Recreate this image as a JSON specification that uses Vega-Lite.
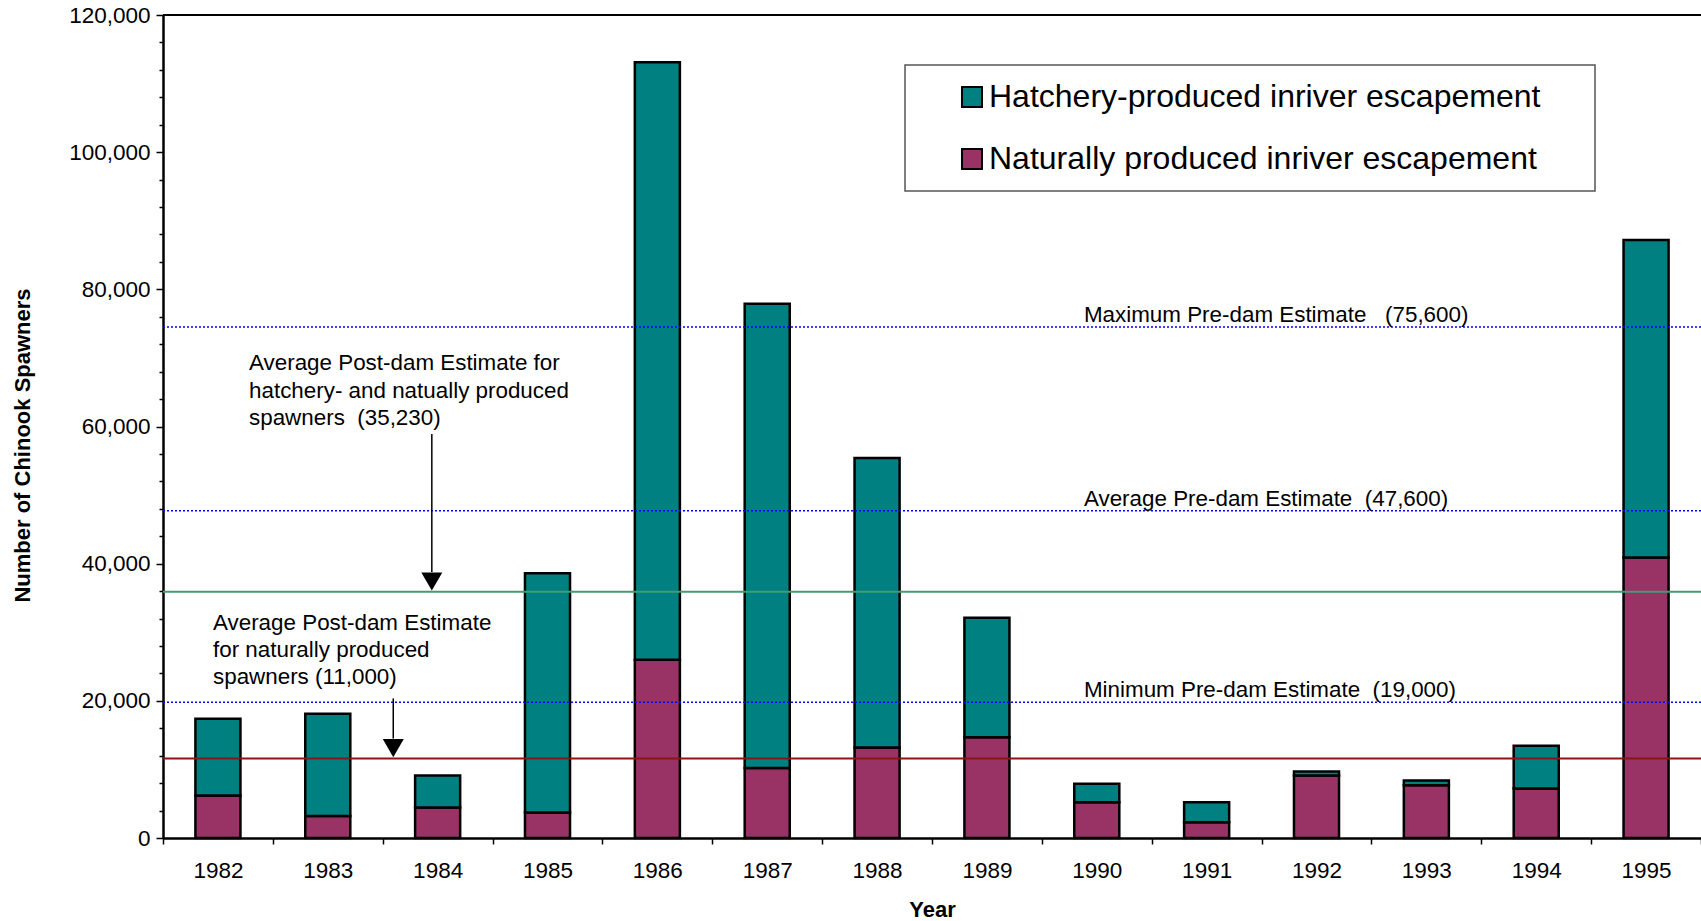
{
  "$schema": "https://vega.github.io/schema/vega-lite/v6.json",
  "width": 1538,
  "height": 823,
  "autosize": {"type": "none"},
  "padding": {"left": 163, "top": 15, "right": 0, "bottom": 83},
  "config": {
    "font": "Liberation Sans",
    "view": {"stroke": null},
    "legend": {"strokeWidth": 1.5}
  },
  "data": {
    "values": [
      {"year": "1982", "type": "Naturally produced inriver escapement", "count": 6200},
      {"year": "1982", "type": "Hatchery-produced inriver escapement", "count": 11200},
      {"year": "1983", "type": "Naturally produced inriver escapement", "count": 3200},
      {"year": "1983", "type": "Hatchery-produced inriver escapement", "count": 14900},
      {"year": "1984", "type": "Naturally produced inriver escapement", "count": 4450},
      {"year": "1984", "type": "Hatchery-produced inriver escapement", "count": 4650},
      {"year": "1985", "type": "Naturally produced inriver escapement", "count": 3700},
      {"year": "1985", "type": "Hatchery-produced inriver escapement", "count": 34900},
      {"year": "1986", "type": "Naturally produced inriver escapement", "count": 26000},
      {"year": "1986", "type": "Hatchery-produced inriver escapement", "count": 87100},
      {"year": "1987", "type": "Naturally produced inriver escapement", "count": 10200},
      {"year": "1987", "type": "Hatchery-produced inriver escapement", "count": 67700},
      {"year": "1988", "type": "Naturally produced inriver escapement", "count": 13200},
      {"year": "1988", "type": "Hatchery-produced inriver escapement", "count": 42200},
      {"year": "1989", "type": "Naturally produced inriver escapement", "count": 14700},
      {"year": "1989", "type": "Hatchery-produced inriver escapement", "count": 17400},
      {"year": "1990", "type": "Naturally produced inriver escapement", "count": 5200},
      {"year": "1990", "type": "Hatchery-produced inriver escapement", "count": 2700},
      {"year": "1991", "type": "Naturally produced inriver escapement", "count": 2300},
      {"year": "1991", "type": "Hatchery-produced inriver escapement", "count": 2900},
      {"year": "1992", "type": "Naturally produced inriver escapement", "count": 9100},
      {"year": "1992", "type": "Hatchery-produced inriver escapement", "count": 600},
      {"year": "1993", "type": "Naturally produced inriver escapement", "count": 7700},
      {"year": "1993", "type": "Hatchery-produced inriver escapement", "count": 700},
      {"year": "1994", "type": "Naturally produced inriver escapement", "count": 7200},
      {"year": "1994", "type": "Hatchery-produced inriver escapement", "count": 6250},
      {"year": "1995", "type": "Naturally produced inriver escapement", "count": 40900},
      {"year": "1995", "type": "Hatchery-produced inriver escapement", "count": 46300}
    ]
  },
  "layer": [
    {
      "mark": {"type": "bar", "width": {"band": 0.41}, "stroke": "black", "strokeWidth": 2.5},
      "encoding": {
        "x": {
          "field": "year", "type": "ordinal",
          "scale": {"paddingInner": 0, "paddingOuter": 0},
          "axis": {
            "title": "Year", "titleFontSize": 22, "titleFontWeight": "bold", "titleColor": "black",
            "titleBaseline": "middle", "titleY": 71,
            "labelAngle": 0, "labelFontSize": 22.5, "labelColor": "black", "labelPadding": 15,
            "tickBand": "extent", "tickSize": 6, "tickColor": "black", "tickWidth": 1.5,
            "domainColor": "black", "domainWidth": 2.5
          }
        },
        "y": {
          "field": "count", "type": "quantitative", "stack": "zero",
          "scale": {"domain": [0, 120000], "nice": false},
          "axis": {
            "title": "Number of Chinook Spawners", "titleFontSize": 22, "titleFontWeight": "bold", "titleColor": "black",
            "titleX": -141, "titleY": 430, "titleAngle": 270, "titleBaseline": "middle", "titleAlign": "center",
            "values": [0, 4000, 8000, 12000, 16000, 20000, 24000, 28000, 32000, 36000, 40000, 44000, 48000, 52000, 56000, 60000, 64000, 68000, 72000, 76000, 80000, 84000, 88000, 92000, 96000, 100000, 104000, 108000, 112000, 116000, 120000],
            "tickCount": 100,
            "labelExpr": "datum.value % 20000 === 0 ? format(datum.value, ',') : ''",
            "labelOverlap": false, "labelBound": false, "labelFlush": false,
            "labelFontSize": 22.5, "labelColor": "black", "labelPadding": 6,
            "tickSize": {"condition": {"test": "datum.value % 20000 === 0", "value": 7}, "value": 4},
            "tickColor": "black", "tickWidth": 1.5,
            "grid": false, "domainColor": "black", "domainWidth": 2.5
          }
        },
        "color": {
          "field": "type", "type": "nominal",
          "scale": {
            "domain": ["Hatchery-produced inriver escapement", "Naturally produced inriver escapement"],
            "range": ["#008080", "#993366"]
          },
          "legend": {
            "orient": "none", "legendX": 742, "legendY": 50, "title": null, "direction": "vertical",
            "symbolType": "square", "symbolSize": 400, "symbolStrokeColor": "black", "symbolStrokeWidth": 2,
            "symbolOffset": 35, "labelOffset": 1, "labelFontSize": 32, "labelColor": "black", "labelLimit": 1000,
            "padding": 16, "rowPadding": 30, "strokeColor": "#555555", "fillColor": "white",
            "labelExpr": "datum.label + '\u2002\u2002\u2009\u200b'"
          }
        },
        "order": {"field": "type", "sort": "descending"}
      }
    },
    {
      "data": {"values": [{}]},
      "mark": {"type": "rule", "color": "black", "strokeWidth": 2},
      "encoding": {"y": {"datum": 120000, "type": "quantitative"}}
    },
    {
      "data": {
        "values": [
          {"estimate": "Maximum Pre-dam Estimate\u00a0\u00a0 (75,600)", "value": 74500},
          {"estimate": "Average Pre-dam Estimate\u00a0 (47,600)", "value": 47700},
          {"estimate": "Minimum Pre-dam Estimate\u00a0 (19,000)", "value": 19800}
        ]
      },
      "layer": [
        {
          "mark": {"type": "rule", "color": "#0000ff", "strokeWidth": 1.5, "strokeDash": [2, 2]},
          "encoding": {"y": {"field": "value", "type": "quantitative"}}
        },
        {
          "mark": {"type": "text", "align": "left", "baseline": "alphabetic", "dy": -5, "fontSize": 22.4, "color": "black"},
          "encoding": {
            "x": {"datum": "1990", "type": "ordinal", "bandPosition": 0.383},
            "y": {"field": "value", "type": "quantitative"},
            "text": {"field": "estimate"}
          }
        }
      ]
    },
    {
      "data": {"values": [{}]},
      "mark": {"type": "rule", "color": "#3f9d72", "strokeWidth": 2},
      "encoding": {"y": {"datum": 35900, "type": "quantitative"}}
    },
    {
      "data": {"values": [{}]},
      "mark": {"type": "rule", "color": "#8b1414", "strokeWidth": 2},
      "encoding": {"y": {"datum": 11600, "type": "quantitative"}}
    },
    {
      "data": {"values": [{}]},
      "mark": {"type": "text", "align": "left", "baseline": "alphabetic", "fontSize": 22.4, "lineHeight": 27.5, "color": "black",
        "text": ["Average Post-dam Estimate for", "hatchery- and natually produced", "spawners\u00a0 (35,230)"]},
      "encoding": {
        "x": {"datum": "1982", "type": "ordinal", "bandPosition": 0.783},
        "y": {"datum": 68200, "type": "quantitative"}
      }
    },
    {
      "data": {"values": [{}]},
      "mark": {"type": "text", "align": "left", "baseline": "alphabetic", "fontSize": 22.4, "lineHeight": 27, "color": "black",
        "text": ["Average Post-dam Estimate", "for naturally produced", "spawners (11,000)"]},
      "encoding": {
        "x": {"datum": "1982", "type": "ordinal", "bandPosition": 0.455},
        "y": {"datum": 30300, "type": "quantitative"}
      }
    },
    {
      "data": {"values": [{}]},
      "mark": {"type": "rule", "color": "black", "strokeWidth": 1.5},
      "encoding": {
        "x": {"datum": "1984", "type": "ordinal", "bandPosition": 0.447},
        "y": {"datum": 58900, "type": "quantitative"},
        "y2": {"datum": 38800}
      }
    },
    {
      "data": {"values": [{}]},
      "mark": {"type": "point", "shape": "triangle-down", "size": 441, "filled": true, "color": "black", "opacity": 1},
      "encoding": {
        "x": {"datum": "1984", "type": "ordinal", "bandPosition": 0.447},
        "y": {"datum": 37400, "type": "quantitative"}
      }
    },
    {
      "data": {"values": [{}]},
      "mark": {"type": "rule", "color": "black", "strokeWidth": 1.5},
      "encoding": {
        "x": {"datum": "1984", "type": "ordinal", "bandPosition": 0.096},
        "y": {"datum": 20350, "type": "quantitative"},
        "y2": {"datum": 14500}
      }
    },
    {
      "data": {"values": [{}]},
      "mark": {"type": "point", "shape": "triangle-down", "size": 441, "filled": true, "color": "black", "opacity": 1},
      "encoding": {
        "x": {"datum": "1984", "type": "ordinal", "bandPosition": 0.096},
        "y": {"datum": 13100, "type": "quantitative"}
      }
    }
  ]
}
